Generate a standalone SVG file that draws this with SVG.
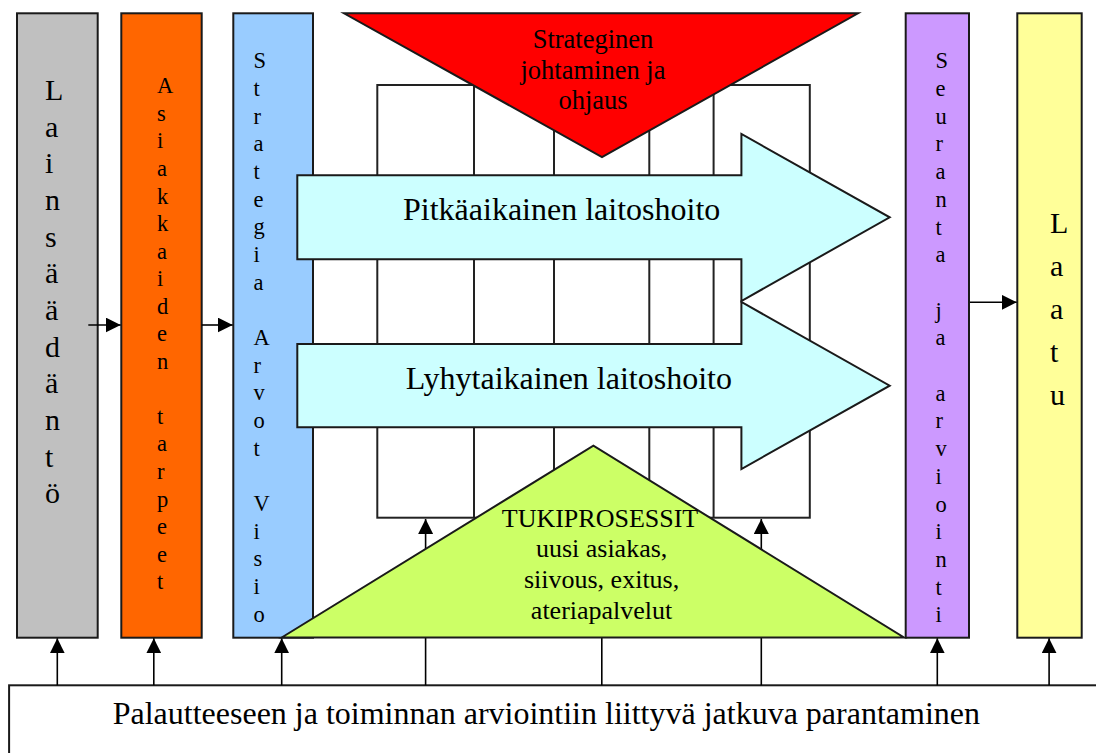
<svg xmlns="http://www.w3.org/2000/svg" width="1096" height="753" viewBox="0 0 1096 753">
<style>
.box{stroke:#1a1a1a;stroke-width:2}
.t{font-family:"Liberation Serif","Times New Roman",serif;fill:#000}
.grid{fill:none;stroke:#222;stroke-width:2}
.conn{stroke:#000;stroke-width:1.6;fill:none}
</style>
<defs>
<marker id="ah" markerUnits="userSpaceOnUse" markerWidth="15" markerHeight="15" refX="15" refY="7.5" orient="auto">
<path d="M0,0 L15,7.5 L0,15 z" fill="#000"/>
</marker>
</defs>
<rect width="1096" height="753" fill="#fff"/>

<g id="lainsaadanto">
<rect class="box" x="17" y="13.3" width="80.7" height="624.4" fill="#C0C0C0"/>
<text class="t" font-size="30" x="45" y="100"><tspan x="45">L</tspan><tspan x="45" dy="36.67">a</tspan><tspan x="45" dy="36.67">i</tspan><tspan x="45" dy="36.67">n</tspan><tspan x="45" dy="36.67">s</tspan><tspan x="45" dy="36.67">ä</tspan><tspan x="45" dy="36.67">ä</tspan><tspan x="45" dy="36.67">d</tspan><tspan x="45" dy="36.67">ä</tspan><tspan x="45" dy="36.67">n</tspan><tspan x="45" dy="36.67">t</tspan><tspan x="45" dy="36.67">ö</tspan></text>
</g>

<g id="asiakkaiden">
<rect class="box" x="121.3" y="13.3" width="80.4" height="624.4" fill="#FF6600"/>
<text class="t" font-size="22.5" x="157" y="93.3"><tspan x="157">A</tspan><tspan x="157" dy="27.55">s</tspan><tspan x="157" dy="27.55">i</tspan><tspan x="157" dy="27.55">a</tspan><tspan x="157" dy="27.55">k</tspan><tspan x="157" dy="27.55">k</tspan><tspan x="157" dy="27.55">a</tspan><tspan x="157" dy="27.55">i</tspan><tspan x="157" dy="27.55">d</tspan><tspan x="157" dy="27.55">e</tspan><tspan x="157" dy="27.55">n</tspan><tspan x="157" dy="55.1">t</tspan><tspan x="157" dy="27.55">a</tspan><tspan x="157" dy="27.55">r</tspan><tspan x="157" dy="27.55">p</tspan><tspan x="157" dy="27.55">e</tspan><tspan x="157" dy="27.55">e</tspan><tspan x="157" dy="27.55">t</tspan></text>
</g>

<g id="strategia">
<rect class="box" x="233.3" y="13.3" width="79.7" height="624.4" fill="#99CCFF"/>
<text class="t" font-size="22.5" x="253.5" y="68.3"><tspan x="253.5">S</tspan><tspan x="253.5" dy="27.67">t</tspan><tspan x="253.5" dy="27.67">r</tspan><tspan x="253.5" dy="27.67">a</tspan><tspan x="253.5" dy="27.67">t</tspan><tspan x="253.5" dy="27.67">e</tspan><tspan x="253.5" dy="27.67">g</tspan><tspan x="253.5" dy="27.67">i</tspan><tspan x="253.5" dy="27.67">a</tspan><tspan x="253.5" dy="55.34">A</tspan><tspan x="253.5" dy="27.67">r</tspan><tspan x="253.5" dy="27.67">v</tspan><tspan x="253.5" dy="27.67">o</tspan><tspan x="253.5" dy="27.67">t</tspan><tspan x="253.5" dy="55.34">V</tspan><tspan x="253.5" dy="27.67">i</tspan><tspan x="253.5" dy="27.67">s</tspan><tspan x="253.5" dy="27.67">i</tspan><tspan x="253.5" dy="27.67">o</tspan></text>
</g>

<g id="seuranta">
<rect class="box" x="905.7" y="13.3" width="63.3" height="624.4" fill="#CC99FF"/>
<text class="t" font-size="22.5" x="935.5" y="68.3"><tspan x="935.5">S</tspan><tspan x="935.5" dy="27.7">e</tspan><tspan x="935.5" dy="27.7">u</tspan><tspan x="935.5" dy="27.7">r</tspan><tspan x="935.5" dy="27.7">a</tspan><tspan x="935.5" dy="27.7">n</tspan><tspan x="935.5" dy="27.7">t</tspan><tspan x="935.5" dy="27.7">a</tspan><tspan x="935.5" dy="55.4">j</tspan><tspan x="935.5" dy="27.7">a</tspan><tspan x="935.5" dy="55.4">a</tspan><tspan x="935.5" dy="27.7">r</tspan><tspan x="935.5" dy="27.7">v</tspan><tspan x="935.5" dy="27.7">i</tspan><tspan x="935.5" dy="27.7">o</tspan><tspan x="935.5" dy="27.7">i</tspan><tspan x="935.5" dy="27.7">n</tspan><tspan x="935.5" dy="27.7">t</tspan><tspan x="935.5" dy="27.7">i</tspan></text>
</g>

<g id="laatu">
<rect class="box" x="1017.3" y="13.3" width="64.4" height="624.4" fill="#FFFF99"/>
<text class="t" font-size="30" x="1050" y="233.3"><tspan x="1050">L</tspan><tspan x="1050" dy="43">a</tspan><tspan x="1050" dy="43">a</tspan><tspan x="1050" dy="43">t</tspan><tspan x="1050" dy="43">u</tspan></text>
</g>

<g id="grid">
<rect class="grid" x="377.3" y="85" width="432.5" height="432.7"/>
<line class="grid" x1="474" y1="85" x2="474" y2="517.7"/>
<line class="grid" x1="554" y1="85" x2="554" y2="517.7"/>
<line class="grid" x1="649.3" y1="85" x2="649.3" y2="517.7"/>
<line class="grid" x1="713.6" y1="85" x2="713.6" y2="517.7"/>
</g>

<g id="strateginen">
<polygon class="box" points="344,13.3 858,13.3 602,157" fill="#FF0000"/>
<text class="t" font-size="26.5" text-anchor="middle"><tspan x="593" y="47.5">Strateginen</tspan><tspan x="593" y="78.5">johtaminen ja</tspan><tspan x="593" y="109">ohjaus</tspan></text>
</g>

<g id="pitkaaikainen">
<polygon class="box" points="297.3,175.3 741.4,175.3 741.4,134 889.7,217.3 741.4,301 741.4,259.3 297.3,259.3" fill="#CCFFFF"/>
<text class="t" font-size="32" x="403" y="220">Pitkäaikainen laitoshoito</text>
</g>

<g id="lyhytaikainen">
<polygon class="box" points="297.3,344 741.4,344 741.4,302 889.7,385.7 741.4,469 741.4,427.3 297.3,427.3" fill="#CCFFFF"/>
<text class="t" font-size="32" x="405.8" y="389">Lyhytaikainen laitoshoito</text>
</g>

<g id="palaute">
<rect class="box" x="9.1" y="685.3" width="1100" height="100" fill="#fff"/>
<text class="t" font-size="32" x="112.7" y="724">Palautteeseen ja toiminnan arviointiin liittyvä jatkuva parantaminen</text>
</g>

<g id="connectors">
<line class="conn" x1="88.3" y1="325" x2="120.7" y2="325" marker-end="url(#ah)"/>
<line class="conn" x1="201.7" y1="325" x2="232.7" y2="325" marker-end="url(#ah)"/>
<line class="conn" x1="970" y1="302.3" x2="1016.7" y2="302.3" marker-end="url(#ah)"/>
<line class="conn" x1="57.3" y1="685.3" x2="57.3" y2="638.3" marker-end="url(#ah)"/>
<line class="conn" x1="153.8" y1="685.3" x2="153.8" y2="638.3" marker-end="url(#ah)"/>
<line class="conn" x1="281.7" y1="685.3" x2="281.7" y2="638.3" marker-end="url(#ah)"/>
<line class="conn" x1="425.6" y1="685.3" x2="425.6" y2="519" marker-end="url(#ah)"/>
<line class="conn" x1="601.8" y1="685.3" x2="601.8" y2="637"/>
<line class="conn" x1="761.3" y1="685.3" x2="761.3" y2="519" marker-end="url(#ah)"/>
<line class="conn" x1="937.3" y1="685.3" x2="937.3" y2="638.3" marker-end="url(#ah)"/>
<line class="conn" x1="1049.1" y1="685.3" x2="1049.1" y2="638.3" marker-end="url(#ah)"/>
</g>

<g id="tukiprosessit">
<polygon class="box" points="281.7,637.5 593.4,445.7 904,637.5" fill="#CCFF66"/>
<text class="t" font-size="26" text-anchor="middle"><tspan x="600" y="526.7">TUKIPROSESSIT</tspan><tspan x="601.6" y="557.3">uusi asiakas,</tspan><tspan x="601.6" y="588.3">siivous, exitus,</tspan><tspan x="601.6" y="619">ateriapalvelut</tspan></text>
</g>
</svg>
